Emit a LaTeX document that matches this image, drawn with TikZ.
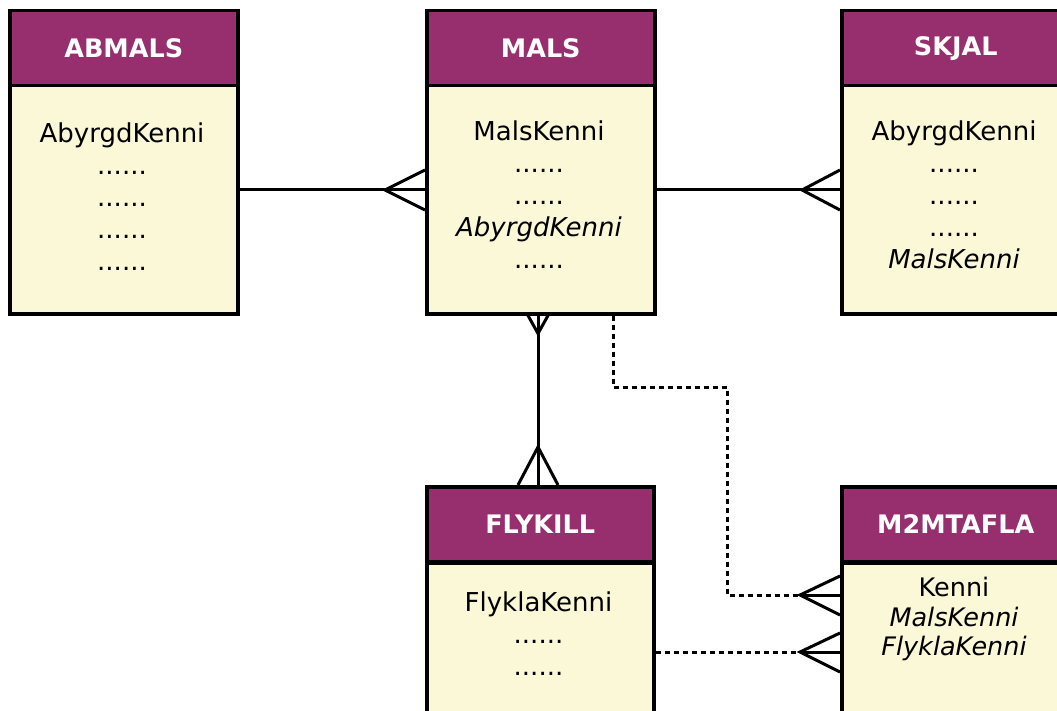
\documentclass[tikz,border=0pt]{standalone}
\usepackage{fontspec}
\setmainfont{DejaVu Sans}
\definecolor{hdrpurple}{RGB}{151,46,110}
\definecolor{bodyyellow}{RGB}{250,248,214}
\begin{document}
\begin{tikzpicture}[x=1pt,y=-1pt,
  hdr/.style={draw=black, line width=3.5pt, fill=hdrpurple, text=white,
    font=\bfseries\fontsize{25.5}{30}\selectfont, minimum width=228pt,
    minimum height=75pt, anchor=north west, inner sep=0pt},
  bodybox/.style={draw=black, line width=3.5pt, fill=bodyyellow,
    minimum width=228pt, minimum height=228pt, anchor=north west, inner sep=0pt},
  attrs/.style={font=\fontsize{26}{32}\selectfont, align=center, anchor=north, inner sep=0pt},
  rel/.style={line width=3pt, line join=miter},
  optrel/.style={line width=3pt, dash pattern=on 5pt off 4pt}
]
\useasboundingbox (0,0) rectangle (1057,711);
\fill[white] (0,0) rectangle (1057,711);
\clip (0,0) rectangle (1057,711);

% ABMALS
\node[bodybox] (abmalsB) at (8,84) {};
\node[hdr] (abmalsH) at (8,9) {ABMALS};
\node[attrs] (abmalsT) at (122,123) {AbyrgdKenni\\......\\......\\......\\......};

% MALS
\node[bodybox] (malsB) at (425,84) {};
\node[hdr] (malsH) at (425,9) {MALS};
\node[attrs] (malsT) at (539,121) {MalsKenni\\......\\......\\\textit{AbyrgdKenni}\\......};

% SKJAL
\node[bodybox] (skjalB) at (840,84) {};
\node[hdr] (skjalH) at (840,9) {SKJAL};
\node[attrs] (skjalT) at (954,121) {AbyrgdKenni\\......\\......\\......\\\textit{MalsKenni}};

% FLYKILL
\node[bodybox, minimum width=227pt] (flykillB) at (425,561) {};
\node[hdr, minimum width=227pt] (flykillH) at (425,485) {FLYKILL};
\node[attrs] (flykillT) at (538.5,592) {FlyklaKenni\\......\\......};

% M2MTAFLA
\node[bodybox] (m2mB) at (840,561) {};
\node[hdr] (m2mH) at (840,485) {M2MTAFLA};
\node[attrs, font=\fontsize{25.5}{29.5}\selectfont] (m2mT) at (954,577) {Kenni\\\textit{MalsKenni}\\\textit{FlyklaKenni}};

% helper coordinates
\coordinate (yTop) at (0,190);
\coordinate (xMid) at (538,0);
\coordinate (d1) at (613,387);
\coordinate (d2) at (727,595);
\coordinate (yLow) at (0,652);

% ABMALS -- MALS
\draw[rel] (abmalsB.east |- yTop) -- (malsB.west |- yTop);
\draw[rel] (malsB.west |- yTop) ++(0,-20) -- ++(-40,20) -- ++(40,20);

% MALS -- SKJAL
\draw[rel] (malsB.east |- yTop) -- (skjalB.west |- yTop);
\draw[rel] (skjalB.west |- yTop) ++(0,-20) -- ++(-38,20) -- ++(38,20);

% MALS -- FLYKILL
\draw[rel] (malsB.south -| xMid) -- (flykillH.north -| xMid);
\draw[rel] (malsB.south -| xMid) ++(-10,0) -- ++(10,18) -- ++(10,-18);
\draw[rel] (flykillH.north -| xMid) ++(-20,0) -- ++(20,-38) -- ++(20,38);

% MALS -- M2MTAFLA (dashed)
\draw[optrel] (malsB.south -| d1) -- (d1) -| (d2) -- ([xshift=-40pt]m2mB.west |- d2);
\draw[rel] ([xshift=-40pt]m2mB.west |- d2) -- (m2mB.west |- d2);
\draw[rel] (m2mB.west |- d2) ++(0,-19) -- ++(-40,19) -- ++(40,20);

% FLYKILL -- M2MTAFLA (dashed)
\draw[optrel] (flykillB.east |- yLow) -- ([xshift=-40pt]m2mB.west |- yLow);
\draw[rel] ([xshift=-40pt]m2mB.west |- yLow) -- (m2mB.west |- yLow);
\draw[rel] (m2mB.west |- yLow) ++(0,-19) -- ++(-40,19) -- ++(40,20);
\end{tikzpicture}
\end{document}
